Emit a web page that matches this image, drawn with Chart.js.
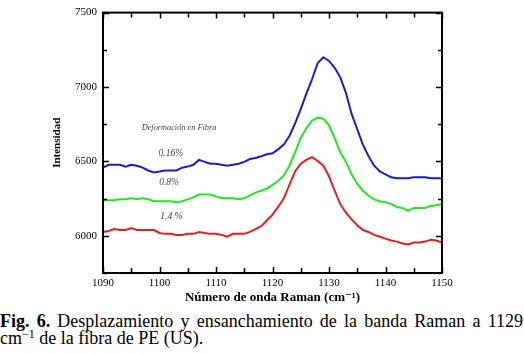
<!DOCTYPE html>
<html>
<head>
<meta charset="utf-8">
<script src="https://cdn.jsdelivr.net/npm/chart.js@4/dist/chart.umd.min.js"></script>
<style>
  html, body { margin:0; padding:0; background:#fff; }
  body { width:524px; height:353px; position:relative; overflow:hidden; }
  #wrap { position:absolute; left:0; top:0; width:524px; height:305px; }
  #cap { position:absolute; left:0; top:313px; width:524px; font-family:'Liberation Serif','Tinos','Times New Roman','DejaVu Serif',serif;
         font-size:18px; line-height:17px; color:#000; white-space:nowrap; }
  #cap sup { font-size:12px; line-height:0; vertical-align:6px; }
  #l1 { display:inline-block; }
</style>
</head>
<body>
<div id="wrap"><canvas id="c" width="524" height="305"></canvas></div>
<div id="cap"><span id="l1"><b>Fig. 6.</b> Desplazamiento y ensanchamiento de la banda Raman a 1129</span><br>cm<sup>−1</sup> de la fibra de PE (US).</div>
<script>
const wavenumbers = [1090,1091,1092,1093,1094,1095,1096,1097,1098,1099,1100,1101,1102,1103,1104,1105,1106,1107,1108,1109,1110,1111,1112,1113,1114,1115,1116,1117,1118,1119,1120,1121,1122,1123,1124,1125,1126,1127,1128,1129,1130,1131,1132,1133,1134,1135,1136,1137,1138,1139,1140,1141,1142,1143,1144,1145,1146,1147,1148,1149,1150];
const strain016 = [6458,6477,6477,6477,6465,6477,6471,6458,6439,6426,6432,6439,6439,6439,6458,6465,6477,6510,6497,6484,6484,6477,6471,6477,6484,6497,6516,6523,6535,6548,6555,6581,6613,6671,6755,6852,6955,7052,7161,7200,7175,7129,7065,6961,6819,6716,6613,6535,6471,6432,6413,6394,6387,6387,6387,6394,6394,6394,6387,6387,6387];
const strain08 = [6239,6239,6239,6245,6245,6252,6245,6252,6245,6232,6232,6232,6232,6226,6232,6245,6258,6277,6277,6277,6265,6252,6252,6252,6245,6252,6271,6290,6303,6316,6342,6368,6406,6471,6561,6658,6723,6774,6794,6787,6742,6658,6561,6497,6413,6348,6303,6271,6245,6232,6226,6213,6194,6187,6168,6187,6187,6187,6200,6206,6213];
const strain14 = [6026,6032,6045,6039,6039,6052,6039,6039,6039,6039,6019,6013,6013,6006,6006,6013,6013,6026,6019,6013,6013,6006,5994,6013,6013,6013,6026,6045,6065,6103,6142,6194,6252,6342,6432,6484,6510,6529,6503,6471,6400,6303,6213,6155,6110,6071,6039,6026,6006,5994,5981,5968,5961,5948,5942,5955,5955,5961,5974,5968,5955];
const seriesLabels = ['0.16%', '0.8%', '1.4 %'];
const xTickLabels = [1090,1100,1110,1120,1130,1140,1150];
const yTickLabels = [6000,6500,7000,7500];
const legendTitle = 'Deformación en Fibra';
// annotation anchor values (data coordinates)
const noteX = [1103.45, 1102.0, 1101.7, 1102.1];
const noteY = [6723, 6555, 6355, 6129];

const serif = "'Liberation Serif','Tinos','Times New Roman','DejaVu Serif',serif";

// justify first caption line like the printed figure
(function () {
  const l1 = document.getElementById('l1');
  const w = l1.getBoundingClientRect().width;
  const spaces = (l1.textContent.match(/ /g) || []).length;
  if (spaces && w < 523) l1.style.wordSpacing = ((523 - w) / spaces) + 'px';
})();

const frameTicks = {
  id: 'frameTicks',
  afterDraw(chart) {
    const {ctx, chartArea: a, scales: {x, y}} = chart;
    ctx.save();
    ctx.strokeStyle = '#000';
    ctx.lineWidth = 2;
    ctx.strokeRect(a.left, a.top, a.right - a.left, a.bottom - a.top);
    ctx.lineWidth = 1.5;
    ctx.beginPath();
    for (let v = 1090; v <= 1150; v += 5) {
      const px = Math.round(x.getPixelForValue(v)) + 0.5;
      const len = (v % 10 === 0) ? 6 : 5;
      ctx.moveTo(px, a.bottom); ctx.lineTo(px, a.bottom - len);
      ctx.moveTo(px, a.top); ctx.lineTo(px, a.top + len);
    }
    for (let v = 5750; v <= 7500; v += 250) {
      const py = Math.round(y.getPixelForValue(v)) + 0.5;
      const len = (v % 500 === 0) ? 6 : 4;
      ctx.moveTo(a.left, py); ctx.lineTo(a.left + len, py);
      ctx.moveTo(a.right, py); ctx.lineTo(a.right - len, py);
    }
    ctx.stroke();
    // annotations
    ctx.fillStyle = '#444';
    ctx.textAlign = 'center';
    ctx.textBaseline = 'middle';
    const notes = [legendTitle].concat(seriesLabels);
    notes.forEach((t, i) => {
      ctx.font = 'italic ' + (i === 0 ? 8.3 : 9.5) + 'px ' + serif;
      ctx.fillText(t, x.getPixelForValue(noteX[i]), y.getPixelForValue(noteY[i]));
    });
    ctx.restore();
  }
};

const mk = (vals, color) => ({
  data: wavenumbers.map((w, i) => ({x: w, y: vals[i]})),
  borderColor: color, borderWidth: 2, pointRadius: 0, tension: 0, fill: false
});

new Chart(document.getElementById('c'), {
  type: 'line',
  data: { datasets: [mk(strain016, '#1a1ad0'), mk(strain08, '#22e622'), mk(strain14, '#e81e1e')] },
  options: {
    responsive: false, animation: false, devicePixelRatio: 1,
    layout: { padding: { left: 0, right: 82, top: 3, bottom: 0 } },
    plugins: { legend: { display: false }, tooltip: { enabled: false } },
    scales: {
      x: {
        type: 'linear', min: 1090, max: 1150,
        afterBuildTicks: s => { s.ticks = xTickLabels.map(v => ({value: v})); },
        afterFit: s => { s.height = 32; },
        grid: { display: false, drawTicks: false }, border: { display: false },
        ticks: { color: '#000', font: { family: serif, size: 11 }, padding: 4, maxRotation: 0, callback: v => String(v) },
        title: { display: true, text: 'Número de onda Raman (cm⁻¹)', color: '#000',
                 font: { family: serif, size: 13, weight: 'bold' }, padding: 0 }
      },
      y: {
        min: 5750, max: 7500,
        afterBuildTicks: s => { s.ticks = yTickLabels.map(v => ({value: v})); },
        afterFit: s => { s.width = 103; },
        grid: { display: false, drawTicks: false }, border: { display: false },
        ticks: { color: '#000', font: { family: serif, size: 11 }, padding: 6, callback: v => String(v) },
        title: { display: true, text: 'Intensidad', color: '#000',
                 font: { family: serif, size: 11, weight: 'bold' }, padding: { top: 51, bottom: 0 } }
      }
    }
  },
  plugins: [frameTicks]
});
</script>
</body>
</html>
